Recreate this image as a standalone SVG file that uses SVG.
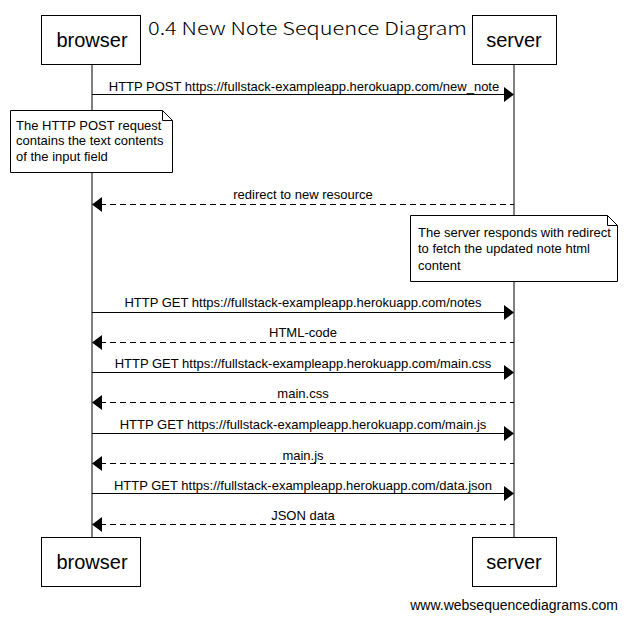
<svg xmlns="http://www.w3.org/2000/svg" width="627" height="621" viewBox="0 0 627 621">
<defs>
<style>
.box{fill:#fff;stroke:#000;stroke-width:1}
.pl{font-family:"Liberation Sans",Arial,sans-serif;font-size:20px;fill:#000;text-anchor:middle}
.msg{font-family:"Liberation Sans",Arial,sans-serif;font-size:13px;fill:#000;text-anchor:middle}
.nt{font-family:"Liberation Sans",Arial,sans-serif;font-size:13px;fill:#000}
.life{stroke:#000;stroke-width:1}
.solid{stroke:#000;stroke-width:1;fill:none}
.dash{stroke:#000;stroke-width:1;fill:none;stroke-dasharray:6,4}
.head{fill:#000}
</style>
</defs>
<rect width="627" height="621" fill="#fff"/>
<text x="148" y="35" font-family="'Noto Sans CJK JP','DejaVu Sans',sans-serif" font-size="18" font-weight="300" textLength="319" lengthAdjust="spacingAndGlyphs">0.4 New Note Sequence Diagram</text>
<g id="lifelines">
<line class="life" x1="92" y1="64" x2="92" y2="537"/>
<line class="life" x1="514" y1="64" x2="514" y2="537"/>
</g>
<g id="browser-top"><rect class="box" x="41.5" y="15.5" width="99" height="49"/><text class="pl" x="92" y="47">browser</text></g>
<g id="server-top"><rect class="box" x="472.5" y="15.5" width="84" height="49"/><text class="pl" x="514" y="47">server</text></g>
<g id="browser-bottom"><rect class="box" x="41.5" y="537.5" width="99" height="49"/><text class="pl" x="92" y="569">browser</text></g>
<g id="server-bottom"><rect class="box" x="472.5" y="537.5" width="84" height="49"/><text class="pl" x="514" y="569">server</text></g>
<g id="note1">
<path class="box" d="M10.5,110.5 H162.5 L172.5,120.5 V172.5 H10.5 Z"/>
<path class="solid" d="M162.5,110.5 V120.5 H172.5"/>
<text class="nt" x="16" y="130">The HTTP POST request</text>
<text class="nt" x="16" y="145">contains the text contents</text>
<text class="nt" x="16" y="161">of the input field</text>
</g>
<g id="note2">
<path class="box" d="M410.5,215.5 H607.5 L617.5,225.5 V281.5 H410.5 Z"/>
<path class="solid" d="M607.5,215.5 V225.5 H617.5"/>
<text class="nt" x="418" y="237">The server responds with redirect</text>
<text class="nt" x="418" y="253">to fetch the updated note html</text>
<text class="nt" x="418" y="270">content</text>
</g>
<g id="connectors">
<line class="solid" x1="92" y1="94.5" x2="506" y2="94.5"/><path class="head" d="M504,87 L514,94.5 L504,102 Z"/>
<text class="msg" x="304" y="91">HTTP POST https://fullstack-exampleapp.herokuapp.com/new_note</text>
<line class="dash" x1="100" y1="204.5" x2="514" y2="204.5"/><path class="head" d="M102,197 L92,204.5 L102,212 Z"/>
<text class="msg" x="303" y="199">redirect to new resource</text>
<line class="solid" x1="92" y1="312.5" x2="506" y2="312.5"/><path class="head" d="M504,305 L514,312.5 L504,320 Z"/>
<text class="msg" x="303" y="307">HTTP GET https://fullstack-exampleapp.herokuapp.com/notes</text>
<line class="dash" x1="100" y1="342.5" x2="514" y2="342.5"/><path class="head" d="M102,335 L92,342.5 L102,350 Z"/>
<text class="msg" x="303" y="337">HTML-code</text>
<line class="solid" x1="92" y1="372.5" x2="506" y2="372.5"/><path class="head" d="M504,365 L514,372.5 L504,380 Z"/>
<text class="msg" x="303" y="368">HTTP GET https://fullstack-exampleapp.herokuapp.com/main.css</text>
<line class="dash" x1="100" y1="402.5" x2="514" y2="402.5"/><path class="head" d="M102,395 L92,402.5 L102,410 Z"/>
<text class="msg" x="303" y="398">main.css</text>
<line class="solid" x1="92" y1="433.5" x2="506" y2="433.5"/><path class="head" d="M504,426 L514,433.5 L504,441 Z"/>
<text class="msg" x="303" y="429">HTTP GET https://fullstack-exampleapp.herokuapp.com/main.js</text>
<line class="dash" x1="100" y1="463.5" x2="514" y2="463.5"/><path class="head" d="M102,456 L92,463.5 L102,471 Z"/>
<text class="msg" x="303" y="460">main.js</text>
<line class="solid" x1="92" y1="493.5" x2="506" y2="493.5"/><path class="head" d="M504,486 L514,493.5 L504,501 Z"/>
<text class="msg" x="303" y="490">HTTP GET https://fullstack-exampleapp.herokuapp.com/data.json</text>
<line class="dash" x1="100" y1="524.5" x2="514" y2="524.5"/><path class="head" d="M102,517 L92,524.5 L102,532 Z"/>
<text class="msg" x="303" y="520">JSON data</text>
</g>
<text x="618" y="610" font-family="'Liberation Sans',Arial,sans-serif" font-size="14" text-anchor="end">www.websequencediagrams.com</text>
</svg>
